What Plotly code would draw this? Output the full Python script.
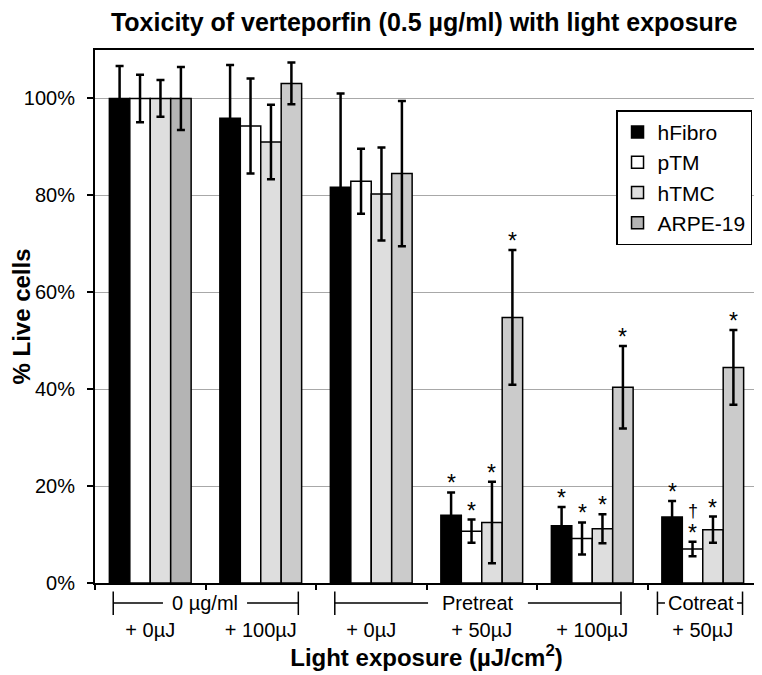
import plotly.graph_objects as go

# ---- data ----
group_labels = ["+ 0µJ", "+ 100µJ", "+ 0µJ", "+ 50µJ", "+ 100µJ", "+ 50µJ"]
series_names = ["hFibro", "pTM", "hTMC", "ARPE-19"]

hfibro = [100, 95.9, 81.7, 14.0, 11.8, 13.6]
hfibro_err = [6.7, 11.0, 19.3, 4.7, 3.9, 3.3]
ptm = [100, 94.3, 82.9, 10.7, 9.2, 7.0]
ptm_err = [4.9, 9.8, 6.7, 2.4, 3.3, 1.5]
htmc = [100, 91.0, 80.3, 12.5, 11.2, 11.0]
htmc_err = [3.8, 7.7, 9.6, 8.4, 3.0, 2.7]
arpe = [100, 103.1, 84.5, 54.8, 40.4, 44.5]
arpe_err = [6.5, 4.3, 15.0, 13.9, 8.5, 7.7]

# significance marks per bar
hfibro_sig = ["", "", "", "*", "*", "*"]
ptm_sig = ["", "", "", "*", "*", "*"]
htmc_sig = ["", "", "", "*", "*", "*"]
arpe_sig = ["", "", "", "*", "*", "*"]
ptm_dagger = ["", "", "", "", "", "†"]

# bracket groups under the axis, in category-index units
bracket_labels = ["0 µg/ml", "Pretreat", "Cotreat"]
bracket_start = [-0.335, 1.67, 4.59]
bracket_gap_start = [0.115, 2.514, 4.658]
bracket_gap_end = [0.876, 3.418, 5.31]
bracket_end = [1.34, 4.26, 5.36]

# ---- style ----
FONT = "Arial, Liberation Sans, sans-serif"
colors = ["#000000", "#ffffff", "#dedede",
          ["#b4b4b4", "#cbcbcb", "#cbcbcb", "#cbcbcb", "#cbcbcb", "#cbcbcb"]]
BARGAP = 0.26
# the page body adds an 8px offset, so the figure is drawn 8px smaller
W, H = 754, 667

x = list(range(len(group_labels)))
values = [hfibro, ptm, htmc, arpe]
errors = [hfibro_err, ptm_err, htmc_err, arpe_err]
sigs = [hfibro_sig, ptm_sig, htmc_sig, arpe_sig]

fig = go.Figure()
for name, vals, errs, col in zip(series_names, values, errors, colors):
    fig.add_trace(go.Bar(
        name=name, x=x, y=vals,
        marker=dict(color=col, line=dict(color="black", width=1.5)),
        error_y=dict(type="data", array=errs, visible=True,
                     color="black", thickness=2.5, width=4),
    ))

bw = (1 - BARGAP) / len(series_names)
annotations = []
for k, (vals, errs, sg) in enumerate(zip(values, errors, sigs)):
    off = (k - (len(series_names) - 1) / 2) * bw
    for i, s in enumerate(sg):
        if s:
            annotations.append(dict(x=i + off, y=vals[i] + errs[i], xref="x", yref="y",
                                    text=s, showarrow=False, yanchor="bottom",
                                    yshift=-6, font=dict(family=FONT, size=23, color="black")))
off_ptm = (1 - (len(series_names) - 1) / 2) * bw
for i, s in enumerate(ptm_dagger):
    if s:
        annotations.append(dict(x=i + off_ptm, y=ptm[i] + ptm_err[i], xref="x", yref="y",
                                text=s, showarrow=False, yanchor="bottom",
                                yshift=19, font=dict(family=FONT, size=18, color="black")))

LINE_Y = -0.0375
shapes = []
for lab, a, g0, g1, b in zip(bracket_labels, bracket_start, bracket_gap_start,
                             bracket_gap_end, bracket_end):
    for s0, s1 in ((a, g0), (g1, b)):
        shapes.append(dict(type="line", xref="x", yref="paper", x0=s0, x1=s1,
                           y0=LINE_Y, y1=LINE_Y, line=dict(color="black", width=1.5)))
    for e in (a, b):
        shapes.append(dict(type="line", xref="x", yref="paper", x0=e, x1=e,
                           y0=-0.016, y1=-0.06, line=dict(color="black", width=1.5)))
    annotations.append(dict(x=(g0 + g1) / 2, y=LINE_Y, xref="x", yref="paper", text=lab,
                            showarrow=False, yanchor="middle",
                            font=dict(family=FONT, size=20, color="black")))

fig.update_layout(
    width=W, height=H,
    margin=dict(l=87, r=4, t=42, b=92),
    paper_bgcolor="white", plot_bgcolor="white",
    barmode="group", bargap=BARGAP, bargroupgap=0,
    font=dict(family=FONT, size=20, color="black"),
    title=dict(text="<b>Toxicity of verteporfin (0.5 µg/ml) with light exposure</b>",
               x=0.552, xanchor="center", y=0.979, yanchor="middle", yref="container",
               font=dict(family=FONT, size=25, color="black")),
    legend=dict(x=0.991, xanchor="right", y=0.887, yanchor="top",
                bgcolor="white", bordercolor="black", borderwidth=1.5,
                font=dict(family=FONT, size=21, color="black"),
                tracegroupgap=0),
    showlegend=True,
    annotations=annotations,
    shapes=shapes,
)
fig.update_xaxes(
    automargin=False,
    range=[-0.5, 5.5], tickvals=x, ticktext=group_labels,
    ticks="", ticklabelstandoff=28,
    showline=True, linecolor="black", linewidth=2, mirror=True,
    showgrid=False, zeroline=False,
    tickfont=dict(family=FONT, size=20),
    minor=dict(tickvals=[i - 0.5 for i in range(len(group_labels) + 1)],
               ticks="outside", ticklen=5, tickcolor="black", tickwidth=1.5, showgrid=False),
    title=dict(text="<b>Light exposure (µJ/cm<sup>2</sup>)</b>", standoff=8,
               font=dict(family=FONT, size=24)),
)
fig.update_yaxes(
    automargin=False,
    range=[0, 110], dtick=20, ticksuffix="%",
    ticks="outside", ticklen=6, tickwidth=1.5, tickcolor="black",
    ticklabelstandoff=8,
    showline=True, linecolor="black", linewidth=2, mirror=True,
    showgrid=True, gridcolor="#a8a8a8", gridwidth=1, zeroline=False,
    tickfont=dict(family=FONT, size=20),
    title=dict(text="<b>% Live cells</b>", standoff=0, font=dict(family=FONT, size=24)),
)

fig.write_html("out.html")
